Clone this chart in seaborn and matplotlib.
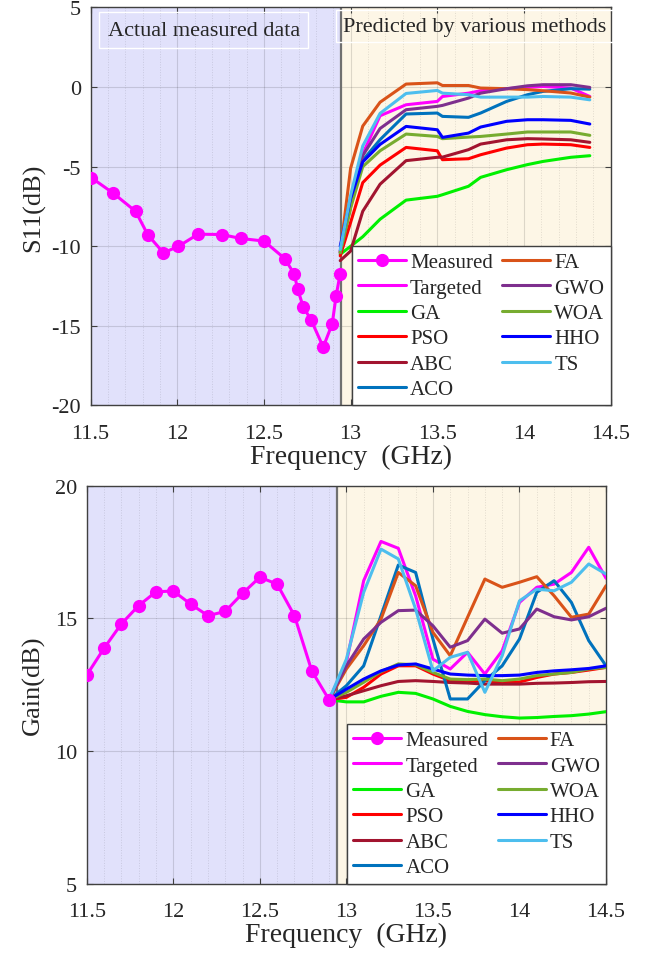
import numpy as np
import matplotlib
matplotlib.use("Agg")
import matplotlib.pyplot as plt
import seaborn as sns

# ---- data ----
# top panel: S11 (dB)
s11_meas_f = [11.505, 11.63, 11.76, 11.83, 11.92, 12.005, 12.12, 12.256, 12.367, 12.50,
              12.62, 12.675, 12.694, 12.727, 12.771, 12.842, 12.894, 12.916, 12.939]
s11_meas = [-5.70, -6.66, -7.81, -9.28, -10.41, -10.01, -9.24, -9.26, -9.51, -9.67,
            -10.77, -11.75, -12.67, -13.82, -14.60, -16.33, -14.87, -13.13, -11.77]

s11_pred_f = [12.94, 13.0, 13.07, 13.17, 13.32, 13.5, 13.53, 13.68, 13.75, 13.9, 14.02, 14.11, 14.27, 14.38]
s11_targeted = [-10.3, -7.2, -4.2, -1.8, -1.11, -0.9, -0.59, -0.38, -0.23, -0.1, -0.02, 0.04, -0.06, -0.59]
s11_ga = [-10.5, -10.0, -9.4, -8.3, -7.1, -6.86, -6.76, -6.23, -5.67, -5.19, -4.87, -4.67, -4.41, -4.31]
s11_pso = [-10.6, -8.5, -6.0, -4.9, -3.79, -4.0, -4.56, -4.5, -4.25, -3.83, -3.62, -3.58, -3.62, -3.79]
s11_abc = [-10.9, -10.3, -7.8, -6.1, -4.62, -4.41, -4.4, -3.93, -3.58, -3.31, -3.24, -3.26, -3.31, -3.47]
s11_aco = [-10.3, -7.4, -4.6, -3.3, -1.69, -1.63, -1.84, -1.9, -1.63, -0.9, -0.48, -0.27, -0.1, -0.13]
s11_fa = [-10.4, -5.1, -2.45, -0.95, 0.19, 0.27, 0.1, 0.1, -0.06, -0.1, -0.16, -0.23, -0.37, -0.63]
s11_gwo = [-10.4, -7.5, -4.3, -2.6, -1.42, -1.21, -1.15, -0.69, -0.38, -0.1, 0.08, 0.15, 0.15, -0.02]
s11_woa = [-10.4, -7.6, -5.0, -4.0, -2.95, -3.1, -3.24, -3.14, -3.1, -2.95, -2.82, -2.82, -2.82, -3.03]
s11_hho = [-10.0, -7.0, -4.7, -3.6, -2.47, -2.68, -3.16, -2.89, -2.51, -2.15, -2.05, -2.05, -2.09, -2.32]
s11_ts = [-10.2, -6.8, -3.7, -1.65, -0.4, -0.21, -0.38, -0.48, -0.63, -0.63, -0.63, -0.59, -0.63, -0.8]

# bottom panel: Gain (dB)
gain_meas_f = [11.5, 11.6, 11.7, 11.8, 11.9, 12.0, 12.1, 12.2, 12.3, 12.4, 12.5, 12.6, 12.7, 12.8, 12.9]
gain_meas = [12.86, 13.87, 14.79, 15.48, 16.0, 16.03, 15.54, 15.1, 15.26, 15.94, 16.55, 16.29, 15.1, 13.02, 11.93]

gain_pred_f = [12.9, 13.0, 13.1, 13.2, 13.3, 13.4, 13.5, 13.6, 13.7, 13.8, 13.9, 14.0, 14.1, 14.2, 14.3, 14.4, 14.5]
gain_targeted = [11.93, 13.34, 16.42, 17.9, 17.64, 15.85, 13.46, 13.09, 13.72, 12.9, 13.78, 15.6, 16.17, 16.29, 16.73, 17.68, 16.51]
gain_ga = [11.93, 11.85, 11.85, 12.06, 12.21, 12.17, 11.96, 11.68, 11.49, 11.37, 11.29, 11.24, 11.26, 11.3, 11.33, 11.39, 11.48]
gain_pso = [11.93, 12.02, 12.4, 12.9, 13.21, 13.21, 12.9, 12.65, 12.62, 12.65, 12.58, 12.6, 12.77, 12.9, 12.96, 13.05, 13.15]
gain_abc = [11.93, 12.08, 12.27, 12.46, 12.62, 12.65, 12.62, 12.58, 12.56, 12.52, 12.52, 12.52, 12.55, 12.56, 12.58, 12.61, 12.62]
gain_aco = [11.93, 12.46, 13.21, 15.1, 17.01, 16.73, 14.22, 11.96, 11.96, 12.65, 13.21, 14.22, 15.98, 16.42, 15.6, 14.16, 13.21]
gain_fa = [11.93, 13.09, 13.97, 14.97, 16.73, 16.23, 14.47, 13.59, 15.04, 16.48, 16.17, 16.36, 16.57, 15.85, 15.04, 15.16, 16.23]
gain_gwo = [11.93, 13.21, 14.22, 14.85, 15.29, 15.31, 14.72, 13.91, 14.16, 14.97, 14.44, 14.6, 15.35, 15.06, 14.94, 15.06, 15.38]
gain_woa = [11.93, 12.21, 12.59, 12.99, 13.28, 13.25, 12.96, 12.71, 12.69, 12.71, 12.65, 12.71, 12.84, 12.9, 12.96, 13.09, 13.15]
gain_hho = [11.93, 12.33, 12.71, 13.02, 13.24, 13.28, 13.09, 12.9, 12.86, 12.84, 12.84, 12.86, 12.96, 13.02, 13.06, 13.11, 13.21]
gain_ts = [11.93, 13.46, 15.98, 17.61, 17.24, 15.35, 13.02, 13.53, 13.72, 12.21, 13.59, 15.66, 16.1, 16.04, 16.36, 17.05, 16.67]

methods = ["Targeted", "GA", "PSO", "ABC", "ACO", "FA", "GWO", "WOA", "HHO", "TS"]
colors = {
    "Measured": "#ff00ff", "Targeted": "#ff00ff", "GA": "#00f000", "PSO": "#ff0000",
    "ABC": "#a2142f", "ACO": "#0072bd", "FA": "#d95319", "GWO": "#7e2f8e",
    "WOA": "#77ac30", "HHO": "#0000ff", "TS": "#4dbeee",
}
s11_series = [s11_targeted, s11_ga, s11_pso, s11_abc, s11_aco, s11_fa, s11_gwo, s11_woa, s11_hho, s11_ts]
gain_series = [gain_targeted, gain_ga, gain_pso, gain_abc, gain_aco, gain_fa, gain_gwo, gain_woa, gain_hho, gain_ts]

BOUNDARY = 12.945

sns.set_style("ticks")
plt.rcParams["font.family"] = ["Liberation Serif", "DejaVu Serif"]
plt.rcParams["axes.unicode_minus"] = False

fig = plt.figure(figsize=(6.52, 9.54), dpi=100)
ax1 = fig.add_axes([0.139, 0.5739, 0.7975, 0.4172])
ax2 = fig.add_axes([0.133, 0.0728, 0.7965, 0.4170])


def draw_panel(ax, meas_f, meas, pred_f, series, ylim, yticks, ylabel, ylabelpad):
    ax.axvspan(11.5, BOUNDARY, color="#e1e1fb", zorder=0, lw=0)
    ax.axvspan(BOUNDARY, 14.5, color="#fdf6e6", zorder=0, lw=0)
    ax.set_xlim(11.5, 14.5)
    ax.set_ylim(*ylim)
    ax.set_xticks([11.5, 12, 12.5, 13, 13.5, 14, 14.5])
    ax.set_xticklabels(["11.5", "12", "12.5", "13", "13.5", "14", "14.5"])
    ax.set_yticks(yticks)
    ax.set_yticklabels([str(t) for t in yticks])
    ax.set_xticks(np.arange(11.6, 14.45, 0.1), minor=True)
    ax.grid(True, which="major", color="#000000", alpha=0.13, lw=0.8)
    ax.grid(True, which="minor", axis="x", color="#000000", alpha=0.11, lw=0.7, ls=":")
    ax.tick_params(which="major", direction="in", top=True, right=True, length=4,
                   labelsize=16, color="#404040")
    ax.tick_params(axis="x", which="major", pad=13)
    ax.tick_params(axis="y", which="major", pad=7)
    ax.tick_params(which="minor", length=0)
    ax.set_axisbelow(True)
    ax.axvline(BOUNDARY, color="#707070", lw=1.6, zorder=1)

    sns.lineplot(x=meas_f, y=meas, ax=ax, color=colors["Measured"], lw=2.2,
                 marker="o", markersize=9.5, markeredgewidth=0, label="Measured",
                 sort=False, zorder=5)
    for name, vals in zip(methods, series):
        sns.lineplot(x=pred_f, y=vals, ax=ax, color=colors[name], lw=2.2,
                     label=name, sort=False, zorder=3)

    for sp in ax.spines.values():
        sp.set_color("#404040")
        sp.set_linewidth(1.0)
    ax.set_xlabel("Frequency  (GHz)", fontsize=20, labelpad=1)
    ax.set_ylabel(ylabel, fontsize=19, labelpad=ylabelpad)

    handles, labels = ax.get_legend_handles_labels()
    leg = ax.legend(handles, labels, loc="lower right", ncol=2, fontsize=15,
                    borderaxespad=0, frameon=True, fancybox=False,
                    handlelength=2.3, handletextpad=0.2, labelspacing=0.28,
                    columnspacing=0.45, borderpad=0.3)
    leg.get_frame().set_edgecolor("#404040")
    leg.get_frame().set_linewidth(1.0)
    leg.get_frame().set_facecolor("white")
    leg.get_frame().set_alpha(1.0)
    leg.set_zorder(10)


draw_panel(ax1, s11_meas_f, s11_meas, s11_pred_f, s11_series, (-20, 5),
           [-20, -15, -10, -5, 0, 5], "S11(dB)", 4)
draw_panel(ax2, gain_meas_f, gain_meas, gain_pred_f, gain_series, (5, 20),
           [5, 10, 15, 20], "Gain(dB)", 7)

ax1.text(0.033, 0.943, "Actual measured data", transform=ax1.transAxes, fontsize=16,
         va="center", ha="left", zorder=6,
         bbox=dict(boxstyle="square,pad=0.38", fc="none", ec="white", lw=1))
ax1.text(0.485, 0.953, "Predicted by various methods", transform=ax1.transAxes, fontsize=16,
         va="center", ha="left", zorder=6,
         bbox=dict(boxstyle="square,pad=0.3", fc="none", ec="white", lw=1))

fig.savefig("out.png", dpi=100)
